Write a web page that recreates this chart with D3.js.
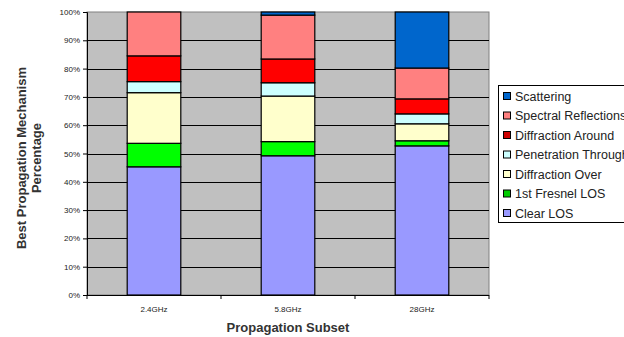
<!DOCTYPE html>
<html>
<head>
<meta charset="utf-8">
<script src="https://cdn.jsdelivr.net/npm/d3@7"></script>
<style>
  html, body { margin: 0; padding: 0; background: #fff; }
  svg { display: block; font-family: "Liberation Sans", Arial, sans-serif; }
</style>
</head>
<body>
<svg id="chart" width="624" height="337"></svg>
<script>
// Propagation subsets on the x axis
const categories = ["2.4GHz", "5.8GHz", "28GHz"];

// Mechanism names, bottom of stack first
const mechanisms = ["Clear LOS", "1st Fresnel LOS", "Diffraction Over", "Penetration Through",
                    "Diffraction Around", "Spectral Reflections", "Scattering"];

// Share of each mechanism (%), one value per subset
const clearLOS          = [45.3, 49.2, 52.7];
const fresnelLOS        = [8.3, 5.0, 1.8];
const diffractionOver   = [17.9, 16.1, 6.0];
const penetrationThru   = [3.9, 4.7, 3.5];
const diffractionAround = [9.1, 8.4, 5.3];
const spectralRefl      = [15.5, 15.5, 10.9];
const scattering        = [0.0, 1.1, 19.8];

const yTicks = [0, 10, 20, 30, 40, 50, 60, 70, 80, 90, 100];

const colors = ["#9999ff", "#00ff00", "#ffffcc", "#ccffff", "#ff0000", "#ff8080", "#0066cc"];
const legendColors = ["#0066cc", "#ff8080", "#cc0000", "#ccffff", "#ffffcc", "#00cc00", "#9999ff"];

const seriesValues = [clearLOS, fresnelLOS, diffractionOver, penetrationThru,
                      diffractionAround, spectralRefl, scattering];

const rows = categories.map((c, i) => {
  const r = { cat: c };
  mechanisms.forEach((m, k) => { r[m] = seriesValues[k][i]; });
  return r;
});

const svg = d3.select("#chart");
const plot = { left: 87, right: 489, top: 12, bottom: 295 };

const x = d3.scaleBand().domain(categories)
  .range([plot.left, plot.right]).paddingInner(0.6).paddingOuter(0.3);
const y = d3.scaleLinear().domain([0, 100]).range([plot.bottom, plot.top]);

// plot background
svg.append("rect")
  .attr("x", plot.left).attr("y", plot.top)
  .attr("width", plot.right - plot.left).attr("height", plot.bottom - plot.top)
  .attr("fill", "#c0c0c0").attr("stroke", "#808080").attr("stroke-width", 1);

// horizontal gridlines
svg.append("g").selectAll("line").data(yTicks.filter(t => t > 0 && t < 100)).join("line")
  .attr("x1", plot.left).attr("x2", plot.right)
  .attr("y1", d => Math.round(y(d)) + 0.5).attr("y2", d => Math.round(y(d)) + 0.5)
  .attr("stroke", "#000").attr("stroke-width", 1);

// stacked bars
const stack = d3.stack().keys(mechanisms)(rows);
svg.append("g").selectAll("g").data(stack).join("g")
  .attr("fill", (d, i) => colors[i])
  .selectAll("rect").data(d => d.filter(p => p[1] - p[0] > 0)).join("rect")
  .attr("x", d => x(d.data.cat))
  .attr("width", x.bandwidth())
  .attr("y", d => y(d[1]))
  .attr("height", d => y(d[0]) - y(d[1]))
  .attr("stroke", "#000").attr("stroke-width", 1.2);

// y axis
const yAxis = d3.axisLeft(y).tickValues(yTicks).tickFormat(d => d + "%").tickSize(4).tickPadding(3);
const gy = svg.append("g").attr("transform", `translate(${plot.left},0)`).call(yAxis);
gy.select(".domain").attr("stroke", "#000");
gy.selectAll(".tick line").attr("stroke", "#000");
gy.selectAll("text").attr("font-size", 8).attr("fill", "#222");

// x axis: ticks sit on category boundaries
const boundaries = d3.range(categories.length + 1).map(i => plot.left + i * x.step());
svg.append("line")
  .attr("x1", plot.left).attr("x2", plot.right)
  .attr("y1", plot.bottom + 0.5).attr("y2", plot.bottom + 0.5)
  .attr("stroke", "#000");
svg.append("g").selectAll("line").data(boundaries).join("line")
  .attr("x1", d => d).attr("x2", d => d)
  .attr("y1", plot.bottom).attr("y2", plot.bottom + 4)
  .attr("stroke", "#000");
svg.append("g").selectAll("text").data(categories).join("text")
  .attr("x", d => x(d) + x.bandwidth() / 2)
  .attr("y", 312)
  .attr("text-anchor", "middle")
  .attr("font-size", 8).attr("fill", "#222")
  .text(d => d);

// axis titles
svg.append("text")
  .attr("x", 288).attr("y", 332)
  .attr("text-anchor", "middle")
  .attr("font-size", 13).attr("font-weight", "bold").attr("fill", "#333")
  .text("Propagation Subset");

const yt = svg.append("text")
  .attr("transform", "translate(26,158) rotate(-90)")
  .attr("text-anchor", "middle")
  .attr("font-size", 13).attr("font-weight", "bold").attr("fill", "#333");
yt.append("tspan").attr("x", 0).attr("dy", 0).text("Best Propagation Mechanism");
yt.append("tspan").attr("x", 0).attr("dy", 15).text("Percentage");

// legend, top item is the top of the stack
const legendItems = mechanisms.map((m, i) => ({ name: m, color: legendColors[6 - i] })).reverse();
const lg = svg.append("g");
lg.append("rect")
  .attr("x", 498.5).attr("y", 85.5).attr("width", 140).attr("height", 137)
  .attr("fill", "#fff").attr("stroke", "#000").attr("stroke-width", 1);
const item = lg.selectAll("g").data(legendItems).join("g")
  .attr("transform", (d, i) => `translate(0,${96 + i * 19.5})`);
item.append("rect")
  .attr("x", 503.5).attr("y", -3.5).attr("width", 7).attr("height", 7)
  .attr("fill", d => d.color).attr("stroke", "#000").attr("stroke-width", 1);
item.append("text")
  .attr("x", 515).attr("y", 4.5)
  .attr("font-size", 12.5).attr("fill", "#222")
  .text(d => d.name);
</script>
</body>
</html>
